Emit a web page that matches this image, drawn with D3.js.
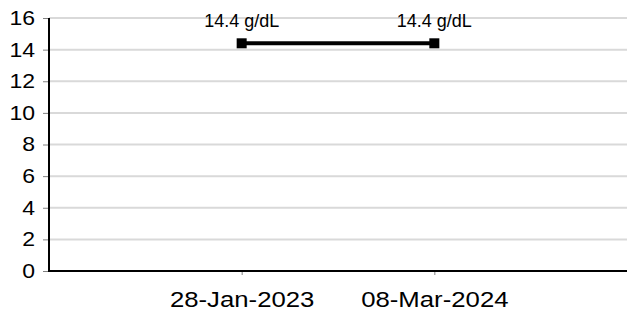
<!DOCTYPE html>
<html>
<head>
<meta charset="utf-8">
<script src="https://cdn.jsdelivr.net/npm/d3@7"></script>
<style>
  html, body { margin: 0; padding: 0; background: #fff; }
  svg { display: block; font-family: Arial, "Liberation Sans", sans-serif; }
</style>
</head>
<body>
<div id="chart"></div>
<script>
// chart data
const dates = ['28-Jan-2023', '08-Mar-2024'];
const values = [14.4, 14.4];
const pointLabels = ['14.4 g/dL', '14.4 g/dL'];
const yTicks = [0, 2, 4, 6, 8, 10, 12, 14, 16];

const W = 627, H = 317;
const margin = { top: 18, right: 0, bottom: 46, left: 49 };
const FONT = 'Arial, "Liberation Sans", sans-serif';

const svg = d3.select('#chart').append('svg')
  .attr('width', W)
  .attr('height', H);

const x = d3.scalePoint()
  .domain(dates)
  .range([margin.left, W - margin.right])
  .padding(1);

const y = d3.scaleLinear()
  .domain([0, 16])
  .range([H - margin.bottom, margin.top]);

// grid lines
svg.append('g')
  .selectAll('line')
  .data(yTicks.filter(d => d > 0))
  .enter()
  .append('line')
    .attr('x1', margin.left)
    .attr('x2', W)
    .attr('y1', d => y(d))
    .attr('y2', d => y(d))
    .attr('stroke', '#d9d9d9')
    .attr('stroke-width', 2);

// y axis (the original text is a bit wide, so stretch it horizontally)
const yAxis = svg.append('g')
  .attr('transform', `translate(${margin.left},0)`)
  .call(d3.axisLeft(y).tickValues(yTicks).tickSize(6).tickPadding(6.2));
yAxis.attr('font-size', 20).attr('font-family', FONT);
yAxis.select('.domain').remove();
yAxis.selectAll('line').attr('stroke', '#808080');
yAxis.selectAll('text')
  .style('font-size', '20px')
  .attr('transform', 'scale(1.15,1)')
  .attr('fill', '#000');

// x axis
const xAxis = svg.append('g')
  .attr('transform', `translate(0,${y(0)})`)
  .call(d3.axisBottom(x).tickSize(4).tickPadding(16.5));
xAxis.attr('font-size', 22).attr('font-family', FONT);
xAxis.select('.domain').remove();
xAxis.selectAll('line').attr('stroke', '#808080');
xAxis.selectAll('text')
  .style('font-size', '22px')
  .attr('transform', 'scale(1.17,1)')
  .attr('fill', '#000');

// axis lines
svg.append('line')
  .attr('x1', margin.left).attr('x2', margin.left)
  .attr('y1', y(16)).attr('y2', y(0) + 1)
  .attr('stroke', '#000').attr('stroke-width', 2);
svg.append('line')
  .attr('x1', margin.left - 1).attr('x2', W)
  .attr('y1', y(0)).attr('y2', y(0))
  .attr('stroke', '#000').attr('stroke-width', 2);

// series line
const line = d3.line()
  .x((d, i) => x(dates[i]))
  .y(d => y(d));

svg.append('path')
  .datum(values)
  .attr('d', line)
  .attr('fill', 'none')
  .attr('stroke', '#000')
  .attr('stroke-width', 4);

// markers
svg.selectAll('rect.marker')
  .data(values)
  .enter()
  .append('rect')
    .attr('class', 'marker')
    .attr('x', (d, i) => x(dates[i]) - 5)
    .attr('y', d => y(d) - 5)
    .attr('width', 10)
    .attr('height', 10)
    .attr('fill', '#000');

// value labels
svg.selectAll('text.vlabel')
  .data(values)
  .enter()
  .append('text')
    .attr('class', 'vlabel')
    .attr('x', (d, i) => x(dates[i]))
    .attr('y', d => y(d) - 16)
    .attr('text-anchor', 'middle')
    .style('font-size', '18px')
    .attr('fill', '#000')
    .text((d, i) => pointLabels[i]);
</script>
</body>
</html>
